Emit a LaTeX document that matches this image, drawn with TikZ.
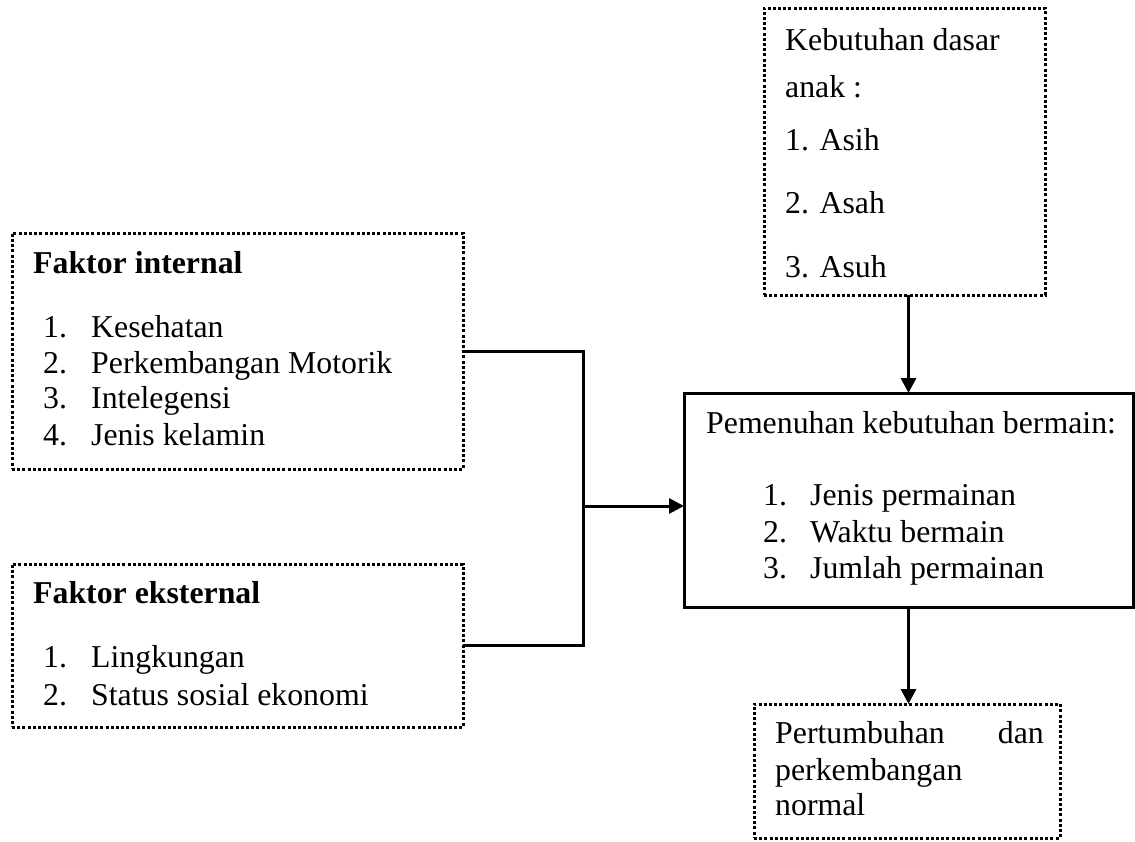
\documentclass[tikz,border=0pt]{standalone}
\usepackage{fontspec}
\setmainfont{Liberation Serif}
\usetikzlibrary{arrows.meta}
\begin{document}
\begin{tikzpicture}[x=1pt,y=-1pt,
  dotbox/.style={draw, line width=3pt, dash pattern=on 3pt off 2.2pt, inner sep=0pt, outer sep=0pt},
  solidbox/.style={draw, line width=3pt, inner sep=0pt, outer sep=0pt},
  conn/.style={line width=3pt},
  arr/.style={line width=3pt, -{Triangle[length=15pt,width=15pt]}},
  txt/.style={anchor=base west, inner sep=0pt, font=\fontsize{31.8}{38}\selectfont},
  txtr/.style={anchor=base east, inner sep=0pt, font=\fontsize{31.8}{38}\selectfont},
  btxt/.style={anchor=base west, inner sep=0pt, font=\fontsize{31.8}{38}\selectfont\bfseries}]
\useasboundingbox (0,0) rectangle (1135,841);
% boxes
\node[dotbox, minimum width=451pt, minimum height=236pt] (internal) at (237.5,351) {};
\node[dotbox, minimum width=451pt, minimum height=163pt] (external) at (237.5,645.5) {};
\node[dotbox, minimum width=281pt, minimum height=287pt] (kebutuhan) at (904.5,151.5) {};
\node[solidbox, minimum width=449pt, minimum height=214pt] (main) at (908.5,500) {};
\node[dotbox, minimum width=306pt, minimum height=134pt] (hasil) at (907,771) {};
% internal text
\node[btxt] (fi) at (33,273) {Faktor internal};
\node[txt] (fi1n) at (43,337) {1.};
\node[txt] (fi1) at (91,337) {Kesehatan};
\node[txt] (fi2n) at (43,373) {2.};
\node[txt] (fi2) at (91,373) {Perkembangan Motorik};
\node[txt] (fi3n) at (43,408) {3.};
\node[txt] (fi3) at (91,408) {Intelegensi};
\node[txt] (fi4n) at (43,445) {4.};
\node[txt] (fi4) at (91,445) {Jenis kelamin};
% external text
\node[btxt] (fe) at (33,603) {Faktor eksternal};
\node[txt] (fe1n) at (43,667) {1.};
\node[txt] (fe1) at (91,667) {Lingkungan};
\node[txt] (fe2n) at (43,705) {2.};
\node[txt] (fe2) at (91,705) {Status sosial ekonomi};
% kebutuhan text
\node[txt] (k0) at (785,50) {Kebutuhan dasar};
\node[txt] (k0b) at (785,97) {anak :};
\node[txt] (k1) at (785,150) {1. Asih};
\node[txt] (k2) at (785,213) {2. Asah};
\node[txt] (k3) at (785,277) {3. Asuh};
% main text
\node[txt] (m0) at (706,433) {Pemenuhan kebutuhan bermain:};
\node[txt] (m1n) at (763,505) {1.};
\node[txt] (m1) at (810,505) {Jenis permainan};
\node[txt] (m2n) at (763,542) {2.};
\node[txt] (m2) at (810,542) {Waktu bermain};
\node[txt] (m3n) at (763,578) {3.};
\node[txt] (m3) at (810,578) {Jumlah permainan};
% hasil text
\node[txt] (h1) at (775,743) {Pertumbuhan};
\node[txtr] (h1b) at (1044,743) {dan};
\node[txt] (h2) at (775,780) {perkembangan};
\node[txt] (h3) at (775,815) {normal};
% connectors
\coordinate (j) at (583,506);
\draw[conn] (internal.east) -| (j);
\draw[conn] (external.east) -| (j);
\draw[arr] (j) -- (j -| main.west);
\draw[arr] (main.north |- kebutuhan.south) -- (main.north);
\draw[arr] (main.south) -- (main.south |- hasil.north);
\end{tikzpicture}
\end{document}
